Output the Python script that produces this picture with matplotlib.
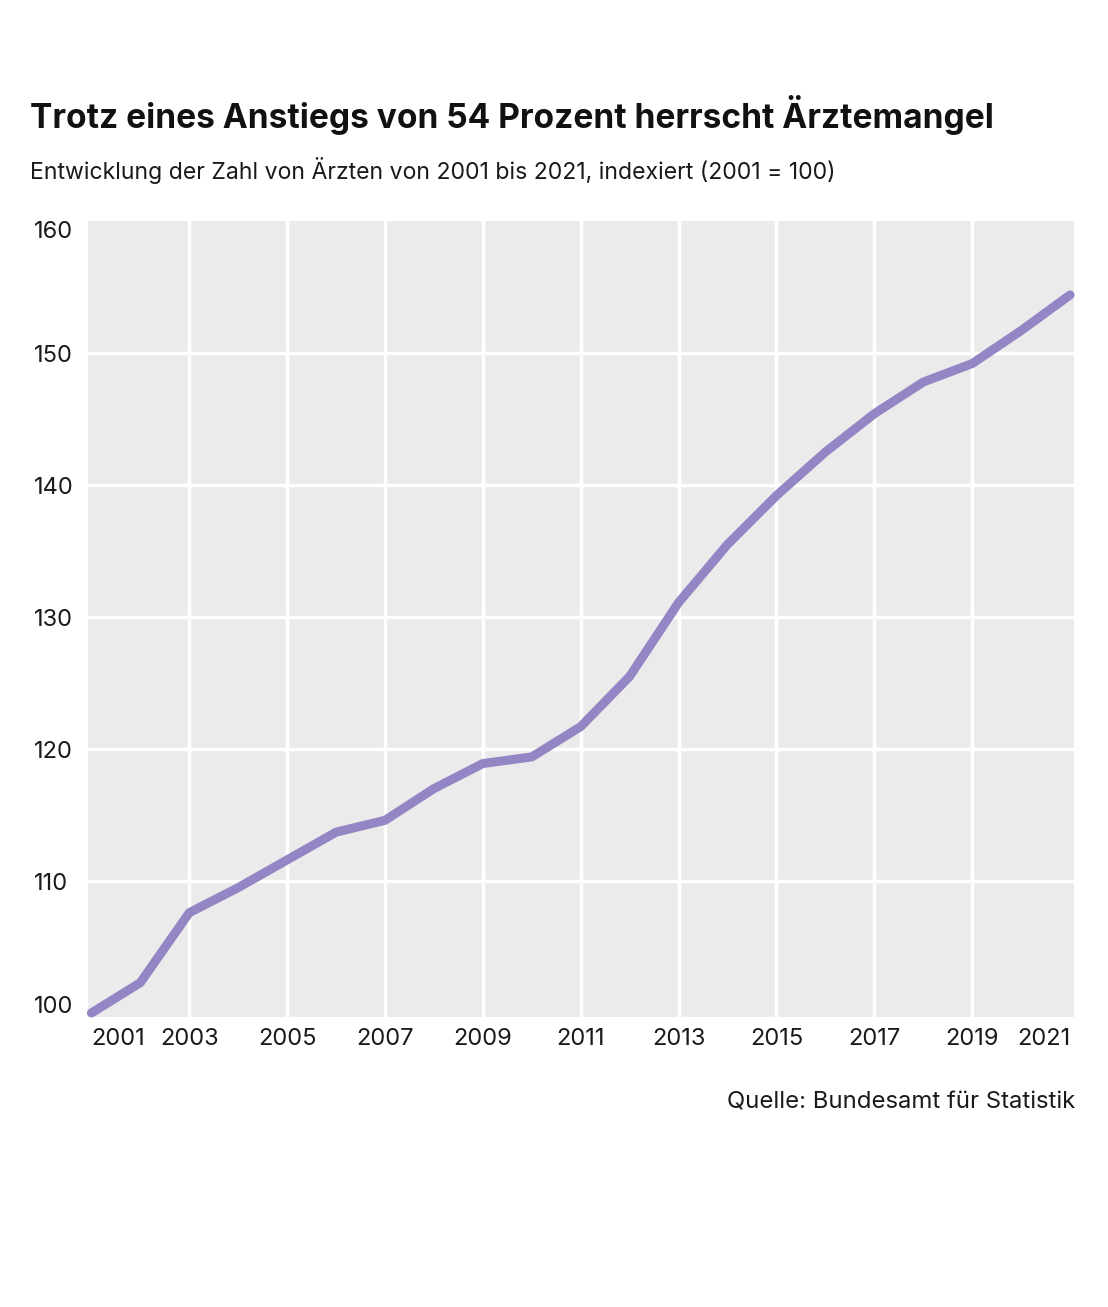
import matplotlib
matplotlib.use("Agg")
from matplotlib import pyplot as plt

plt.rcParams['font.family'] = ['Inter', 'DejaVu Sans']

# Index values (2001 = 100)
years = list(range(2001, 2022))
index = [100.0, 102.3, 107.6, 109.5, 111.6, 113.7, 114.6, 117.0, 118.9, 119.4,
         121.7, 125.5, 131.1, 135.5, 139.2, 142.5, 145.4, 147.8, 149.2, 151.7, 154.4]
xticks = list(range(2001, 2022, 2))
yticks = [100, 110, 120, 130, 140, 150, 160]

title = "Trotz eines Anstiegs von 54 Prozent herrscht Ärztemangel"
subtitle = "Entwicklung der Zahl von Ärzten von 2001 bis 2021, indexiert (2001 = 100)"
source = "Quelle: Bundesamt für Statistik"

fig = plt.figure(figsize=(11.08, 13.07), dpi=100)
ax = fig.add_axes([0.0794, 0.2219, 0.8899, 0.609])
ax.set_facecolor('#ebebeb')

ax.plot(years, index, color='#9486c4', lw=6.5, solid_capstyle='round',
        solid_joinstyle='round', zorder=3, clip_on=False)

ax.set_xlim(2000.93, 2021.08)
ax.set_ylim(99.7, 160)
ax.set_xticks(xticks)
ax.set_yticks(yticks)

# white grid only inside the panel, not on its edges
for x in xticks[1:-1]:
    ax.axvline(x, color='white', lw=2.5, zorder=1)
for y in yticks[1:-1]:
    ax.axhline(y, color='white', lw=2.5, zorder=1)

for s in ax.spines.values():
    s.set_visible(False)
ax.tick_params(length=0, labelsize=17, colors='#1a1a1a')
ax.tick_params(axis='x', pad=8)
ax.tick_params(axis='y', pad=39)

ylabs = ax.get_yticklabels()
for lab in ylabs:
    lab.set_ha('left')
ylabs[0].set_va('baseline')
ylabs[-1].set_va('top')
xlabs = ax.get_xticklabels()
xlabs[0].set_ha('left')
xlabs[-1].set_ha('right')

fig.text(30 / 1108, 1 - 115 / 1307, title, fontsize=24.1, fontweight='bold',
         va='center', ha='left', color='#111111')
fig.text(30 / 1108, 1 - 171 / 1307, subtitle, fontsize=16.6, va='center',
         ha='left', color='#1a1a1a')
fig.text(1075 / 1108, 1 - 1102 / 1307, source, fontsize=17.2, va='center',
         ha='right', color='#1a1a1a')

fig.savefig('out.png', dpi=100)
